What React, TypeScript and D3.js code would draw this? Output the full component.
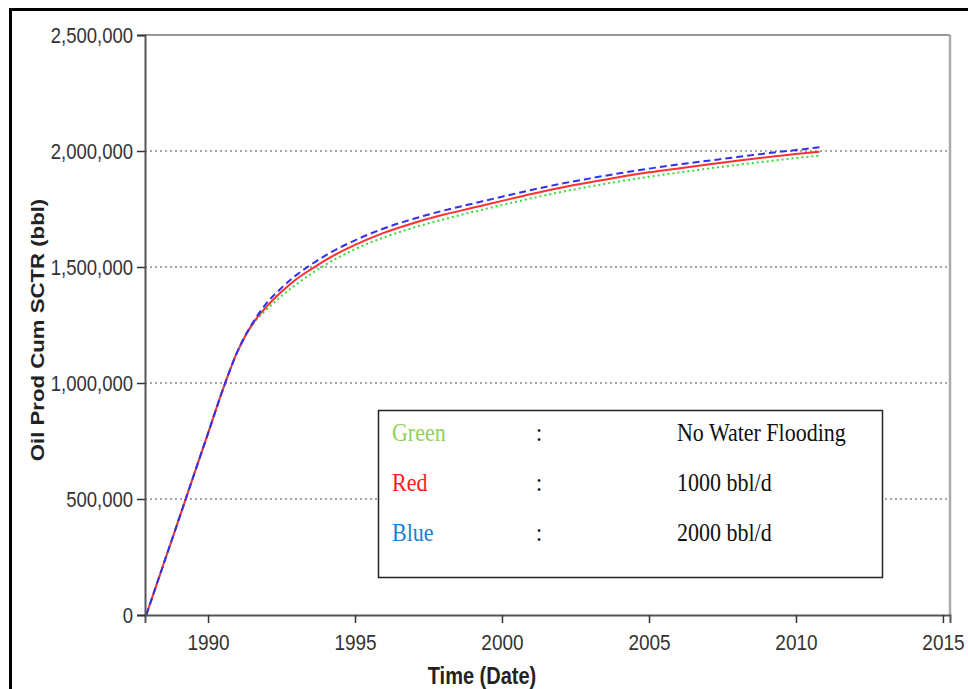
import React from 'react';
import * as d3 from 'd3';

const width = 968;
const height = 689;
const margin = {top: 35, right: 18, bottom: 74, left: 145};
const stretch = 1.2;

// decimal years and cumulative oil (bbl)
const years = [
  1987.9, 1988.5, 1989, 1989.5, 1990, 1990.5, 1991, 1991.3, 1991.6, 1992, 1992.5,
  1993, 1993.5, 1994, 1995, 1996, 1997, 1998, 1999, 2000, 2001, 2002, 2003,
  2004, 2005, 2006, 2007, 2008, 2009, 2010, 2010.8,
];
const greenValues = [
  0, 224000, 410000, 597000, 783000, 970000, 1135000, 1208000, 1265000, 1318000, 1375000,
  1425000, 1470000, 1510000, 1577000, 1628000, 1670000, 1705000, 1737000, 1767000, 1796000, 1823000, 1847000,
  1869000, 1889000, 1907000, 1924000, 1940000, 1955000, 1970000, 1980000,
];
const redValues = [
  0, 224000, 410000, 597000, 783000, 970000, 1135000, 1210000, 1270000, 1330000, 1393000,
  1447000, 1490000, 1530000, 1595000, 1648000, 1690000, 1725000, 1755000, 1785000, 1815000, 1842000, 1865000,
  1888000, 1908000, 1925000, 1942000, 1958000, 1973000, 1987000, 1997000,
];
const blueValues = [
  0, 224000, 410000, 597000, 783000, 970000, 1135000, 1212000, 1275000, 1345000, 1410000,
  1465000, 1510000, 1550000, 1615000, 1667000, 1708000, 1743000, 1773000, 1803000, 1832000, 1859000, 1882000,
  1904000, 1924000, 1942000, 1958000, 1974000, 1990000, 2004000, 2016000,
];

const yTicks = [0, 500000, 1000000, 1500000, 2000000, 2500000];
const gridTicks = [500000, 1000000, 1500000, 2000000];
const domainYears: [number, number] = [1987.857, 2015.24];

const legendRows = [
  {name: 'Green', color: '#8fd15a', label: 'No Water Flooding'},
  {name: 'Red', color: '#ff1a1a', label: '1000 bbl/d'},
  {name: 'Blue', color: '#1a7fd0', label: '2000 bbl/d'},
];

const toDate = (y: number) => {
  const yr = Math.floor(y);
  const start = new Date(yr, 0, 1).getTime();
  const end = new Date(yr + 1, 0, 1).getTime();
  return new Date(start + (y - yr) * (end - start));
};

const App: React.FC = () => {
  const xAxisRef = React.useRef<SVGGElement>(null);
  const yAxisRef = React.useRef<SVGGElement>(null);

  const xScale = d3.scaleTime()
    .domain(domainYears.map(toDate) as [Date, Date])
    .range([margin.left, width - margin.right]);

  const yScale = d3.scaleLinear()
    .domain([0, 2500000])
    .range([height - margin.bottom, margin.top]);

  React.useEffect(() => {
    const xAxis = d3.axisBottom(xScale)
      .ticks(d3.timeYear.every(5) as any)
      .tickSize(8)
      .tickFormat(d3.timeFormat('%Y') as any);
    const yAxis = d3.axisLeft(yScale)
      .tickValues(yTicks)
      .tickSize(8)
      .tickPadding(4)
      .tickFormat(d3.format(',') as any);

    if (xAxisRef.current) {
      const g = d3.select(xAxisRef.current).call(xAxis);
      g.select('.domain').attr('stroke', '#555').attr('stroke-width', 2);
      g.selectAll('.tick line').attr('stroke', '#333').attr('stroke-width', 1.5);
      g.selectAll('.tick text')
        .attr('font-size', 19)
        .attr('fill', '#333')
        .attr('y', 15.5)
        .attr('transform', `scale(1,${stretch})`);
    }
    if (yAxisRef.current) {
      const g = d3.select(yAxisRef.current).call(yAxis);
      g.select('.domain').attr('stroke', '#555').attr('stroke-width', 2);
      g.selectAll('.tick line').attr('stroke', '#333').attr('stroke-width', 1.5);
      g.selectAll('.tick text')
        .attr('font-size', 18.5)
        .attr('fill', '#333')
        .attr('transform', `scale(1,${stretch})`);
    }
  }, []);

  const line = (vals: number[]) =>
    d3.line<number>()
      .x((_, i) => xScale(toDate(years[i])))
      .y(d => yScale(d))
      .curve(d3.curveMonotoneX)(vals) || '';

  const x0 = margin.left;
  const x1 = width - margin.right;
  const yTop = margin.top;
  const yBot = height - margin.bottom;

  return (
    <svg width={width} height={height}
      style={{position: 'absolute', left: 0, top: 0, background: '#fff'}}
      fontFamily="'Liberation Sans', Arial, sans-serif">
      <rect x={10.5} y={9.5} width={980} height={700} fill="#fff" stroke="#000" strokeWidth={3} />

      {gridTicks.map(t => (
        <line key={t} x1={x0} x2={x1} y1={yScale(t)} y2={yScale(t)}
          stroke="#888" strokeWidth={1.5} strokeDasharray="2,3" />
      ))}
      <line x1={x0} x2={x1} y1={yTop} y2={yTop} stroke="#999" strokeWidth={2} />
      <line x1={x1} x2={x1} y1={yTop} y2={yBot} stroke="#aaa" strokeWidth={2.5} />

      <path d={line(greenValues)} fill="none" stroke="#33dd33" strokeWidth={2} strokeDasharray="2,3" />
      <path d={line(redValues)} fill="none" stroke="#ff3030" strokeWidth={2} />
      <path d={line(blueValues)} fill="none" stroke="#3030ee" strokeWidth={2} strokeDasharray="7,4" />

      <g ref={xAxisRef} transform={`translate(0, ${yBot})`} />
      <g ref={yAxisRef} transform={`translate(${x0}, 0)`} />

      <text transform={`translate(482, 684) scale(1,${stretch})`} textAnchor="middle"
        fontWeight="bold" fontSize={20} fill="#222">Time (Date)</text>
      <text transform={`translate(44, 330) scale(1,${stretch}) rotate(-90)`} textAnchor="middle"
        fontWeight="bold" fontSize={18.5} fill="#222">Oil Prod Cum SCTR (bbl)</text>

      <g fontFamily="'Liberation Serif', 'Times New Roman', serif">
        <rect x={378.5} y={410.5} width={504} height={167} fill="#fff" stroke="#222" strokeWidth={1.5} />
        {legendRows.map((r, i) => (
          <g key={r.name} transform={`translate(0, ${441 + i * 50}) scale(1,1.15)`}>
            <text x={392} y={0} fontSize={22} fill={r.color}>{r.name}</text>
            <text x={536} y={0} fontSize={22} fill="#111">:</text>
            <text x={677} y={0} fontSize={22} fill="#111">{r.label}</text>
          </g>
        ))}
      </g>
    </svg>
  );
};

export default App;
